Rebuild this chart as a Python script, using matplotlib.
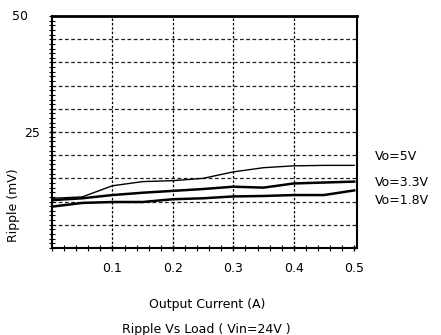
import numpy as np
import matplotlib
matplotlib.use("Agg")
import matplotlib.pyplot as plt
from matplotlib.ticker import MultipleLocator

# Data
current = [0.0, 0.05, 0.1, 0.15, 0.2, 0.25, 0.3, 0.35, 0.4, 0.45, 0.5]
ripple_5v = [10.7, 11.0, 13.4, 14.3, 14.5, 15.0, 16.4, 17.3, 17.7, 17.8, 17.8]
ripple_33v = [10.3, 10.7, 11.4, 11.9, 12.3, 12.7, 13.2, 13.0, 13.9, 14.1, 14.3]
ripple_18v = [8.9, 9.7, 9.9, 9.9, 10.5, 10.7, 11.1, 11.2, 11.4, 11.4, 12.4]
series_labels = ["Vo=5V", "Vo=3.3V", "Vo=1.8V"]
label_y = [19.7, 14.1, 10.3]
x_ticks = [0.1, 0.2, 0.3, 0.4, 0.5]
x_tick_labels = ["0.1", "0.2", "0.3", "0.4", "0.5"]
grid_y = [5, 10, 15, 20, 25, 30, 35, 40, 45]

plt.rcParams['font.family'] = ['DejaVu Sans']

fig = plt.figure(figsize=(4.41, 3.35), dpi=100)
ax = fig.add_axes([0.118, 0.26, 0.692, 0.692])

# grid
for gy in grid_y:
    ax.axhline(gy, color='#222222', lw=0.9, ls=(0, (3, 2)), zorder=1)
for gx in x_ticks[:-1]:
    ax.axvline(gx, color='black', lw=0.9, ls=(0, (2, 1.5)), zorder=1)

# curves
ax.plot(current, ripple_5v, color='black', lw=1.0, zorder=3)
ax.plot(current, ripple_33v, color='black', lw=1.8, zorder=3)
ax.plot(current, ripple_18v, color='black', lw=1.8, zorder=3)

for lab, ly in zip(series_labels, label_y):
    ax.text(1.059, ly, lab, transform=ax.get_yaxis_transform(),
            fontsize=9, va='center', ha='left', clip_on=False)

ax.set_xlim(0, 0.505)
ax.set_ylim(0, 50)

ax.set_xticks(x_ticks)
ax.set_xticklabels(x_tick_labels, fontsize=9)
ax.xaxis.set_minor_locator(MultipleLocator(0.02))
ax.set_yticks([25])
ax.set_yticklabels(["25"], fontsize=9)
ax.yaxis.set_minor_locator(MultipleLocator(1))
ax.text(-0.08, 50, "50", transform=ax.get_yaxis_transform(),
        fontsize=9, ha='right', va='center')

ax.tick_params(which='both', direction='inout', color='black')
ax.tick_params(which='major', length=5, width=1)
ax.tick_params(which='minor', length=4, width=0.8)
ax.tick_params(axis='x', pad=8)
ax.tick_params(axis='y', pad=6)

for side in ['left', 'right', 'bottom']:
    ax.spines[side].set_linewidth(1.5)
ax.spines['top'].set_linewidth(2)

ax.set_xlabel("Output Current (A)", fontsize=9)
ax.xaxis.set_label_coords(0.508, -0.216)
ax.set_ylabel("Ripple (mV)", fontsize=9)
ax.yaxis.set_label_coords(-0.105, 0.185)

fig.text(206 / 441, 1 - 330 / 335, "Ripple Vs Load ( Vin=24V )",
         fontsize=9, ha='center', va='center')

fig.savefig("out.png", dpi=100)
